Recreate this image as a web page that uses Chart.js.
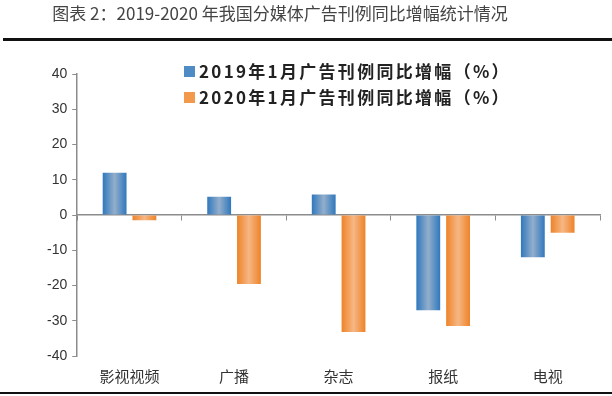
<!DOCTYPE html>
<html>
<head>
<meta charset="utf-8">
<script src="https://cdn.jsdelivr.net/npm/chart.js@4.4.0/dist/chart.umd.min.js"></script>
<style>
  html, body { margin: 0; padding: 0; background: #fff; }
  #wrap { width: 612px; height: 396px; position: relative; }
</style>
</head>
<body>
<div id="wrap"><canvas id="chart" width="612" height="396"></canvas></div>
<script>
// media categories and the two yearly series (%)
const categories = ['影视视频', '广播', '杂志', '报纸', '电视'];
const growth2019 = [12.0, 5.2, 5.8, -27.0, -12.0];
const growth2020 = [-1.5, -19.6, -33.2, -31.5, -5.0];
const seriesLabels = ['2019年1月广告刊例同比增幅（%）', '2020年1月广告刊例同比增幅（%）'];
const titleText = '图表 2：2019-2020 年我国分媒体广告刊例同比增幅统计情况';

const CAT_PCT = 0.57;
const BAR_PCT = 0.8;

// colours: edge, middle
const palette = [
    { edge: '#2f78bd', mid: '#93aecb', solid: '#4f8cc6' },
    { edge: '#ee8328', mid: '#f6b784', solid: '#f3994c' }
];

// horizontal gradient for each bar, worked out from the x scale
function barGradient(context) {
    const chart = context.chart;
    const x = chart.scales.x;
    const col = palette[context.datasetIndex];
    if (!x || context.dataIndex === undefined) return col.solid;
    const cw = x.getPixelForValue(1) - x.getPixelForValue(0);
    const slot = cw * CAT_PCT / 2;
    const w = slot * BAR_PCT;
    const c = x.getPixelForValue(context.dataIndex) + (context.datasetIndex === 0 ? -slot / 2 : slot / 2);
    if (!isFinite(c) || !isFinite(w) || w <= 0) return col.solid;
    const g = chart.ctx.createLinearGradient(c - w / 2, 0, c + w / 2, 0);
    g.addColorStop(0, col.edge);
    g.addColorStop(0.5, col.mid);
    g.addColorStop(1, col.edge);
    return g;
}

// page decorations: title, rules and the legend
const decorPlugin = {
    id: 'decor',
    afterDraw: function(chart) {
        const ctx = chart.ctx;
        ctx.save();
        ctx.fillStyle = '#444';
        ctx.font = '17px "Noto Sans CJK SC", sans-serif';
        ctx.textAlign = 'center';
        ctx.textBaseline = 'middle';
        ctx.fillText(titleText, 280, 14);

        ctx.fillStyle = '#111';
        ctx.fillRect(3, 38, 609, 3);
        ctx.fillRect(0, 392, 612, 2);

        // legend
        ctx.textAlign = 'left';
        ctx.font = 'bold 17px "Noto Sans CJK SC", sans-serif';
        ctx.letterSpacing = '2.3px';
        const rows = [72, 98];
        for (let i = 0; i < 2; i++) {
            ctx.fillStyle = palette[i].solid;
            ctx.fillRect(184, rows[i] - 6, 11, 11);
            ctx.fillStyle = '#222';
            ctx.fillText(seriesLabels[i], 199, rows[i]);
        }
        ctx.restore();
    }
};

const chart = new Chart(document.getElementById('chart'), {
    type: 'bar',
    data: {
        labels: categories,
        datasets: [
            { label: seriesLabels[0], data: growth2019, backgroundColor: barGradient },
            { label: seriesLabels[1], data: growth2020, backgroundColor: barGradient }
        ]
    },
    options: {
        responsive: false,
        animation: false,
        categoryPercentage: CAT_PCT,
        barPercentage: BAR_PCT,
        layout: { padding: { top: 74, left: 42, right: 12, bottom: 0 } },
        plugins: {
            legend: { display: false },
            tooltip: { enabled: false }
        },
        scales: {
            x: {
                position: { y: 0 },
                grid: { drawOnChartArea: false, drawTicks: true, tickLength: 5, offset: true, color: '#8c8c8c' },
                border: { color: '#8c8c8c', width: 1.5 },
                ticks: { display: false }
            },
            x2: {
                type: 'category',
                labels: categories,
                position: 'bottom',
                offset: true,
                grid: { display: false, drawTicks: false },
                border: { display: false },
                ticks: {
                    color: '#333',
                    padding: 11,
                    font: { size: 15, family: '"Noto Sans CJK SC", sans-serif' }
                }
            },
            y: {
                min: -40,
                max: 40,
                ticks: {
                    stepSize: 10,
                    color: '#333',
                    padding: 5,
                    font: { size: 14, family: '"Liberation Sans", sans-serif' }
                },
                grid: { drawOnChartArea: false, drawTicks: true, tickLength: 5, color: '#8c8c8c' },
                border: { color: '#8c8c8c', width: 1.5 }
            }
        }
    },
    plugins: [decorPlugin]
});
// second pass so the gradients see the finished layout
chart.update('none');
</script>
</body>
</html>
